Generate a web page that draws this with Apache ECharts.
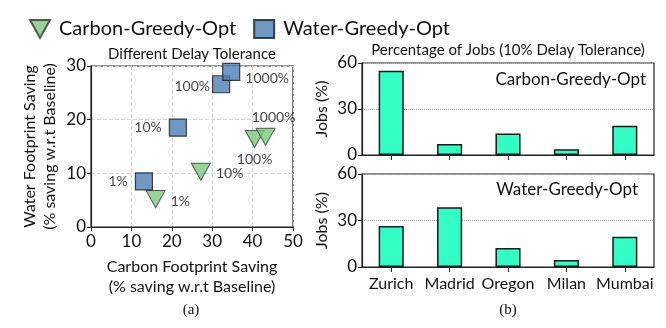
<!DOCTYPE html>
<html>
<head>
<meta charset="utf-8">
<script src="https://cdn.jsdelivr.net/npm/echarts@6/dist/echarts.min.js"></script>
<style>
  html, body { margin: 0; padding: 0; background: #fff; }
  #main { width: 666px; height: 328px; }
</style>
</head>
<body>
<div id="main"></div>
<script>
// (a) scatter: savings at different delay tolerance
const tolerances = ['1%', '10%', '100%', '1000%'];
const carbonGreedyX = [16.0, 27.2, 40.5, 43.2];
const carbonGreedyY = [5.2, 10.3, 16.4, 16.8];
const waterGreedyX = [13.1, 21.5, 32.2, 34.7];
const waterGreedyY = [8.5, 18.5, 26.6, 28.9];

// (b) share of jobs per region (10% delay tolerance)
const regions = ['Zurich', 'Madrid', 'Oregon', 'Milan', 'Mumbai'];
const carbonJobs = [55, 7.2, 14.1, 3.7, 19.1];
const waterJobs = [26.5, 38.5, 12.3, 4.5, 19.5];

const FONT = 'Lato, "DejaVu Sans", sans-serif';
const GREEN = '#7cc97a';
const BLUE = '#4a7fb5';
const BAR = '#33ffc4';
const downTri = 'path://M0,0 L20,0 L10,18 Z';

// label placement per point
const carbonLabelPos = [
  { position: 'right', offset: [0, 2] },
  { position: 'right', offset: [0, 2] },
  { position: 'bottom', offset: [0, 0] },
  { position: 'top', offset: [8, 2] }
];
const waterLabelPos = [
  { position: 'left', offset: [-2, 0] },
  { position: 'left', offset: [-2, 0] },
  { position: 'left', offset: [3, 2] },
  { position: 'right', offset: [0, 7] }
];

function points(xs, ys, pos) {
  return xs.map((x, i) => ({
    value: [x, ys[i]],
    label: Object.assign({ show: true, formatter: tolerances[i], color: '#111', fontSize: 14, fontFamily: FONT }, pos[i])
  }));
}

const chart = echarts.init(document.getElementById('main'));

const axisText = { color: '#111', fontSize: 17, fontFamily: FONT };
const blackLine = { lineStyle: { color: '#222', width: 1.2 } };
const nameText = { fontSize: 16, color: '#111', fontFamily: FONT, lineHeight: 20 };

chart.setOption({
  animation: false,
  textStyle: { fontFamily: FONT },
  legend: {
    left: 24, top: 14,
    itemWidth: 20, itemHeight: 18, itemGap: 17,
    textStyle: { fontSize: 20, color: '#111', fontFamily: FONT, padding: [0, 0, 0, 4] },
    data: [
      { name: 'Carbon-Greedy-Opt', icon: downTri },
      { name: 'Water-Greedy-Opt', icon: 'rect' }
    ]
  },
  grid: [
    { left: 91, top: 66, width: 202, height: 161, show: true, borderColor: '#222', borderWidth: 1.2 },
    { left: 362, top: 63, width: 292, height: 92, show: true, borderColor: '#222', borderWidth: 1.2 },
    { left: 362, top: 174, width: 292, height: 93, show: true, borderColor: '#222', borderWidth: 1.2 }
  ],
  xAxis: [
    {
      gridIndex: 0, type: 'value', min: 0, max: 50, interval: 10,
      axisLine: blackLine, axisTick: { show: true, length: 4, lineStyle: { color: '#222' } },
      axisLabel: Object.assign({ margin: 6 }, axisText),
      splitLine: { show: true, lineStyle: { type: 'dashed', color: '#d6d6d6' } },
      name: 'Carbon Footprint Saving\n(% saving w.r.t Baseline)',
      nameLocation: 'middle', nameGap: 30,
      nameTextStyle: nameText
    },
    {
      gridIndex: 1, type: 'category', data: regions,
      axisLine: blackLine, axisTick: { show: true, alignWithLabel: true, length: 5, lineStyle: { color: '#222' } },
      axisLabel: { show: false, interval: 0 }
    },
    {
      gridIndex: 2, type: 'category', data: regions,
      axisLine: blackLine, axisTick: { show: true, alignWithLabel: true, length: 5, interval: 0, lineStyle: { color: '#222' } },
      axisLabel: { color: '#111', fontSize: 16, fontFamily: FONT, margin: 9, interval: 0 }
    }
  ],
  yAxis: [
    {
      gridIndex: 0, type: 'value', min: 0, max: 30, interval: 10,
      axisLine: { show: true, lineStyle: { color: '#222', width: 1.2 } },
      axisTick: { show: true, length: 4, lineStyle: { color: '#222' } },
      axisLabel: Object.assign({ margin: 5 }, axisText),
      splitLine: { show: true, lineStyle: { type: 'dashed', color: '#d6d6d6' } },
      name: 'Water Footprint Saving\n(% saving w.r.t Baseline)',
      nameLocation: 'middle', nameRotate: 90, nameGap: 31,
      nameTextStyle: nameText
    },
    {
      gridIndex: 1, type: 'value', min: 0, max: 60, interval: 30,
      axisLine: { show: true, lineStyle: { color: '#222', width: 1.2 } },
      axisTick: { show: true, length: 4, lineStyle: { color: '#222' } },
      axisLabel: Object.assign({ margin: 5 }, axisText),
      splitLine: { show: true, lineStyle: { type: 'dotted', color: '#aaa' } },
      name: 'Jobs (%)', nameLocation: 'middle', nameRotate: 90, nameGap: 30,
      nameTextStyle: nameText
    },
    {
      gridIndex: 2, type: 'value', min: 0, max: 60, interval: 30,
      axisLine: { show: true, lineStyle: { color: '#222', width: 1.2 } },
      axisTick: { show: true, length: 4, lineStyle: { color: '#222' } },
      axisLabel: Object.assign({ margin: 5 }, axisText),
      splitLine: { show: true, lineStyle: { type: 'dotted', color: '#aaa' } },
      name: 'Jobs (%)', nameLocation: 'middle', nameRotate: 90, nameGap: 30,
      nameTextStyle: nameText
    }
  ],
  series: [
    {
      name: 'Carbon-Greedy-Opt', type: 'scatter', xAxisIndex: 0, yAxisIndex: 0,
      symbol: downTri, symbolSize: [19, 17],
      itemStyle: { color: GREEN, borderColor: '#333', borderWidth: 1 },
      data: points(carbonGreedyX, carbonGreedyY, carbonLabelPos)
    },
    {
      name: 'Water-Greedy-Opt', type: 'scatter', xAxisIndex: 0, yAxisIndex: 0,
      symbol: 'rect', symbolSize: 17,
      itemStyle: { color: BLUE, borderColor: '#1a1a1a', borderWidth: 1.2 },
      data: points(waterGreedyX, waterGreedyY, waterLabelPos)
    },
    {
      type: 'bar', xAxisIndex: 1, yAxisIndex: 1, barWidth: '43%',
      itemStyle: { color: BAR, borderColor: '#1a1a1a', borderWidth: 1.5 },
      data: carbonJobs
    },
    {
      type: 'bar', xAxisIndex: 2, yAxisIndex: 2, barWidth: '43%',
      itemStyle: { color: BAR, borderColor: '#1a1a1a', borderWidth: 1.5 },
      data: waterJobs
    }
  ],
  graphic: [
    { type: 'text', x: 192, y: 47, style: { text: 'Different Delay Tolerance', fontSize: 15, fontFamily: FONT, fill: '#111', textAlign: 'center' } },
    { type: 'text', x: 508, y: 43, style: { text: 'Percentage of Jobs (10% Delay Tolerance)', fontSize: 15, fontFamily: FONT, fill: '#111', textAlign: 'center' } },
    { type: 'text', x: 646, y: 71, style: { text: 'Carbon-Greedy-Opt', fontSize: 17, fontFamily: FONT, fill: '#111', textAlign: 'right' } },
    { type: 'text', x: 638, y: 181, style: { text: 'Water-Greedy-Opt', fontSize: 17, fontFamily: FONT, fill: '#111', textAlign: 'right' } },
    { type: 'text', x: 191, y: 303, style: { text: '(a)', fontSize: 15, fontFamily: '"Liberation Serif", serif', fill: '#111', textAlign: 'center' } },
    { type: 'text', x: 508, y: 303, style: { text: '(b)', fontSize: 15, fontFamily: '"Liberation Serif", serif', fill: '#111', textAlign: 'center' } }
  ]
});
</script>
</body>
</html>
